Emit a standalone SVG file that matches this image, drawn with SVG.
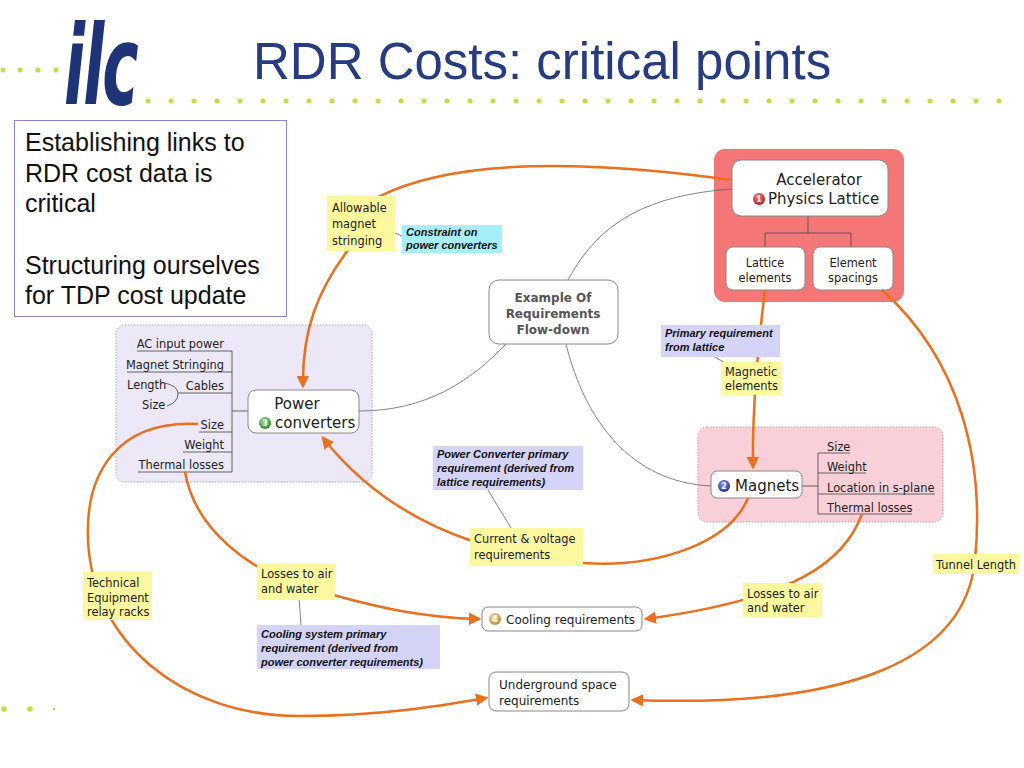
<svg xmlns="http://www.w3.org/2000/svg" width="1024" height="768" viewBox="0 0 1024 768">
<defs>
<marker id="arr" viewBox="0 0 10 10" refX="8" refY="5" markerWidth="5" markerHeight="5" orient="auto" markerUnits="strokeWidth">
<path d="M0,0 L10,5 L0,10 z" fill="#e8701e"/>
</marker>
<radialGradient id="gR" cx="0.4" cy="0.35" r="0.7"><stop offset="0" stop-color="#f08080"/><stop offset="1" stop-color="#b01818"/></radialGradient>
<radialGradient id="gB" cx="0.4" cy="0.35" r="0.7"><stop offset="0" stop-color="#8098e8"/><stop offset="1" stop-color="#1c2e90"/></radialGradient>
<radialGradient id="gG" cx="0.4" cy="0.35" r="0.7"><stop offset="0" stop-color="#90e090"/><stop offset="1" stop-color="#208a20"/></radialGradient>
<radialGradient id="gY" cx="0.4" cy="0.35" r="0.7"><stop offset="0" stop-color="#f4dca0"/><stop offset="1" stop-color="#b88a30"/></radialGradient>
</defs>
<style>
.t{font-family:"DejaVu Sans","Noto Sans",sans-serif;font-size:11.4px;fill:#222}
.tm{font-family:"DejaVu Sans","Noto Sans",sans-serif;font-size:15px;fill:#222}
.nb{font-family:"Liberation Sans",Arial,sans-serif;font-size:11px;font-weight:bold;font-style:italic;fill:#111}
.big{font-family:"Liberation Sans",Arial,sans-serif;font-size:25px;fill:#111}
.node{fill:#fff;stroke:#888;stroke-width:1}
.yel{fill:#fbf8a0}
.lav{fill:#d4d4f8}
.cy{fill:#a6eef8}
.oc{fill:none;stroke:#e8701e;stroke-width:2.5}
.gc{fill:none;stroke:#666;stroke-width:0.8}
.br{fill:none;stroke:#555;stroke-width:0.9}
.dot{fill:#c4dc3c}
.bn{font-family:"DejaVu Sans",sans-serif;font-size:8px;font-weight:bold;fill:#fff}
</style>
<rect width="1024" height="768" fill="#fff"/>

<g id="header">
<g class="dot">
<circle cx="3" cy="70" r="2.5"/><circle cx="20" cy="70" r="2.5"/><circle cx="38" cy="70" r="2.5"/><circle cx="56" cy="70" r="2.5"/><circle cx="74" cy="70" r="2.5"/><circle cx="92" cy="70" r="2.5"/><circle cx="110" cy="70" r="2.5"/>
<circle cx="148" cy="101" r="2.5"/><circle cx="171" cy="101" r="2.5"/><circle cx="194" cy="101" r="2.5"/><circle cx="217" cy="101" r="2.5"/><circle cx="240" cy="101" r="2.5"/><circle cx="263" cy="101" r="2.5"/><circle cx="286" cy="101" r="2.5"/><circle cx="309" cy="101" r="2.5"/><circle cx="332" cy="101" r="2.5"/><circle cx="355" cy="101" r="2.5"/><circle cx="378" cy="101" r="2.5"/><circle cx="401" cy="101" r="2.5"/><circle cx="424" cy="101" r="2.5"/><circle cx="447" cy="101" r="2.5"/><circle cx="470" cy="101" r="2.5"/><circle cx="493" cy="101" r="2.5"/><circle cx="516" cy="101" r="2.5"/><circle cx="539" cy="101" r="2.5"/><circle cx="562" cy="101" r="2.5"/><circle cx="585" cy="101" r="2.5"/><circle cx="608" cy="101" r="2.5"/><circle cx="631" cy="101" r="2.5"/><circle cx="654" cy="101" r="2.5"/><circle cx="677" cy="101" r="2.5"/><circle cx="700" cy="101" r="2.5"/><circle cx="723" cy="101" r="2.5"/><circle cx="746" cy="101" r="2.5"/><circle cx="769" cy="101" r="2.5"/><circle cx="792" cy="101" r="2.5"/><circle cx="815" cy="101" r="2.5"/><circle cx="838" cy="101" r="2.5"/><circle cx="861" cy="101" r="2.5"/><circle cx="884" cy="101" r="2.5"/><circle cx="907" cy="101" r="2.5"/><circle cx="930" cy="101" r="2.5"/><circle cx="953" cy="101" r="2.5"/><circle cx="976" cy="101" r="2.5"/><circle cx="999" cy="101" r="2.5"/>
<circle cx="4" cy="709" r="2.8"/><circle cx="30" cy="709" r="2.8"/><circle cx="54" cy="709" r="1.2"/>
</g>
<text x="64" y="104" font-family="DejaVu Sans Condensed,DejaVu Sans,sans-serif" font-size="110" font-weight="bold" font-style="italic" fill="#1f3478" letter-spacing="-3" transform="translate(64,0) scale(0.62,1) translate(-64,0)">ilc</text>
<text x="253" y="79" font-family="Liberation Sans,Arial,sans-serif" font-size="51" fill="#263b80">RDR Costs: critical points</text>
</g>

<g id="intro">
<rect x="14.5" y="120.5" width="272" height="196" fill="#fff" stroke="#8a86c8" stroke-width="1"/>
<text class="big" x="25" y="151">Establishing links to</text>
<text class="big" x="25" y="182">RDR cost data is</text>
<text class="big" x="25" y="212">critical</text>
<text class="big" x="25" y="274">Structuring ourselves</text>
<text class="big" x="25" y="304">for TDP cost update</text>
</g>

<g id="panel-power">
<rect x="116" y="325" width="256" height="157" rx="9" fill="#ece8f8" stroke="#aaa" stroke-dasharray="1.5 1.5"/>
<g class="br">
<path d="M137 351 H232 M127 372 H232 M186 393 H232 M199 432 H232 M183 452 H232 M138 472 H232 M232 351 V472 M232 411 H248"/>
<path d="M165 383 Q178 386 178 394 Q178 402 167 406 M178 393 H186"/>
</g>
<text class="t" x="224" y="348" text-anchor="end">AC input power</text>
<text class="t" x="224" y="369" text-anchor="end">Magnet Stringing</text>
<text class="t" x="224" y="390" text-anchor="end">Cables</text>
<text class="t" x="127" y="389">Length</text>
<text class="t" x="142" y="409">Size</text>
<text class="t" x="224" y="429" text-anchor="end">Size</text>
<text class="t" x="224" y="449" text-anchor="end">Weight</text>
<text class="t" x="224" y="469" text-anchor="end">Thermal losses</text>
</g>

<g id="node-power">
<rect class="node" x="248" y="390" width="111" height="43" rx="8"/>
<text class="tm" x="297" y="409" text-anchor="middle">Power</text>
<circle cx="265" cy="423" r="6" fill="url(#gG)"/>
<text class="bn" x="265" y="426" text-anchor="middle">3</text>
<text class="tm" x="275" y="428">converters</text>
</g>

<g id="node-example">
<rect class="node" x="489" y="280" width="129" height="64" rx="10"/>
<text class="t" x="553" y="302" text-anchor="middle" font-weight="bold" style="fill:#555;font-size:12px">Example Of</text>
<text class="t" x="553" y="318" text-anchor="middle" font-weight="bold" style="fill:#555;font-size:12px">Requirements</text>
<text class="t" x="553" y="334" text-anchor="middle" font-weight="bold" style="fill:#555;font-size:12px">Flow-down</text>
</g>

<g id="panel-lattice">
<rect x="714" y="149" width="190" height="153" rx="11" fill="#f47676"/>
<path class="br" d="M808 215 V233 M765 233 H851 M765 233 V247 M851 233 V247"/>
</g>
<g id="node-accel">
<rect class="node" x="732" y="160" width="156" height="56" rx="9"/>
<text class="tm" x="819" y="185" text-anchor="middle">Accelerator</text>
<circle cx="759" cy="199" r="6" fill="url(#gR)"/>
<text class="bn" x="759" y="202" text-anchor="middle">1</text>
<text class="tm" x="768" y="204">Physics Lattice</text>
</g>
<g id="node-lattice-elements">
<rect class="node" x="726" y="247" width="79" height="43" rx="7"/>
<text class="t" x="765" y="267" text-anchor="middle">Lattice</text>
<text class="t" x="765" y="282" text-anchor="middle">elements</text>
</g>
<g id="node-element-spacings">
<rect class="node" x="813" y="247" width="80" height="43" rx="7"/>
<text class="t" x="853" y="267" text-anchor="middle">Element</text>
<text class="t" x="853" y="282" text-anchor="middle">spacings</text>
</g>

<g id="panel-magnets">
<rect x="698" y="427" width="245" height="95" rx="9" fill="#f9d0d8" stroke="#aaa" stroke-dasharray="1.5 1.5"/>
<path class="br" d="M802 486 H818 M818 453 V514 M818 453 H850 M818 473 H866 M818 494 H935 M818 514 H912"/>
<text class="t" x="827" y="451">Size</text>
<text class="t" x="827" y="471">Weight</text>
<text class="t" x="827" y="492">Location in s-plane</text>
<text class="t" x="827" y="512">Thermal losses</text>
</g>
<g id="node-magnets">
<rect class="node" x="711" y="471" width="91" height="27" rx="6"/>
<circle cx="724" cy="486" r="6" fill="url(#gB)"/>
<text class="bn" x="724" y="489" text-anchor="middle">2</text>
<text class="tm" x="735" y="491">Magnets</text>
</g>

<g id="connectors">
<path class="gc" d="M568 280 C600 220 650 195 732 189"/>
<path class="gc" d="M566 344 C585 420 630 482 711 486"/>
<path class="gc" d="M359 411 C425 411 470 382 506 344"/>
<path class="gc" d="M395 233 L402 236"/>
<path class="gc" d="M715 357 L725 363"/>
<path class="gc" d="M488 490 L511 528"/>
<path class="gc" d="M299 598 L301 625"/>
<path class="oc" d="M378 197 Q480 145 732 180"/>
<path class="oc" d="M348 250 C318 290 302 330 303 386" marker-end="url(#arr)"/>
<path class="oc" d="M472 541 Q380 510 323 438" marker-end="url(#arr)"/>
<path class="oc" d="M748 498 C730 542 660 568 583 563"/>
<path class="oc" d="M765 290 C760 330 752 400 753 467" marker-end="url(#arr)"/>
<path class="oc" d="M882 290 C960 360 985 460 975 560 C965 660 850 708 633 700" marker-end="url(#arr)"/>
<path class="oc" d="M862 514 C845 560 800 598 646 619" marker-end="url(#arr)"/>
<path class="oc" d="M185 472 C195 530 250 570 300 585 C380 610 430 618 479 619" marker-end="url(#arr)"/>
<path class="oc" d="M198 424 C120 420 85 470 88 540 C92 640 180 716 300 716 C380 716 440 706 486 698" marker-end="url(#arr)"/>
</g>

<g id="note-allowable">
<rect class="yel" x="327" y="196" width="68" height="55"/>
<text class="t" x="332" y="212">Allowable</text>
<text class="t" x="332" y="228">magnet</text>
<text class="t" x="332" y="245">stringing</text>
</g>
<g id="note-constraint">
<rect class="cy" x="402" y="225" width="100" height="28"/>
<text class="nb" x="406" y="236">Constraint on</text>
<text class="nb" x="406" y="249">power converters</text>
</g>
<g id="note-primary-lattice">
<rect class="lav" x="661" y="325" width="119" height="32"/>
<text class="nb" x="665" y="337">Primary requirement</text>
<text class="nb" x="665" y="351">from lattice</text>
</g>
<g id="note-magnetic-elements">
<rect class="yel" x="721" y="362" width="60" height="33"/>
<text class="t" x="725" y="376">Magnetic</text>
<text class="t" x="725" y="390">elements</text>
</g>
<g id="note-pc-primary">
<rect class="lav" x="433" y="446" width="150" height="44"/>
<text class="nb" x="437" y="458">Power Converter primary</text>
<text class="nb" x="437" y="472">requirement (derived from</text>
<text class="nb" x="437" y="486">lattice requirements)</text>
</g>
<g id="note-current">
<rect class="yel" x="470" y="528" width="113" height="38"/>
<text class="t" x="474" y="543">Current &amp; voltage</text>
<text class="t" x="474" y="559">requirements</text>
</g>
<g id="note-losses-left">
<rect class="yel" x="257" y="564" width="78" height="36"/>
<text class="t" x="261" y="578">Losses to air</text>
<text class="t" x="261" y="593">and water</text>
</g>
<g id="note-cooling-primary">
<rect class="lav" x="257" y="625" width="183" height="44"/>
<text class="nb" x="261" y="638">Cooling system primary</text>
<text class="nb" x="261" y="652">requirement (derived from</text>
<text class="nb" x="261" y="666">power converter requirements)</text>
</g>
<g id="note-losses-right">
<rect class="yel" x="743" y="583" width="79" height="34"/>
<text class="t" x="747" y="598">Losses to air</text>
<text class="t" x="747" y="612">and water</text>
</g>
<g id="note-tunnel">
<rect class="yel" x="933" y="554" width="86" height="20"/>
<text class="t" x="936" y="569">Tunnel Length</text>
</g>
<g id="note-technical">
<rect class="yel" x="83" y="572" width="69" height="48"/>
<text class="t" x="87" y="587">Technical</text>
<text class="t" x="87" y="602">Equipment</text>
<text class="t" x="87" y="616">relay racks</text>
</g>

<g id="node-cooling">
<rect class="node" x="482" y="607" width="160" height="24" rx="6"/>
<circle cx="495" cy="619" r="6" fill="url(#gY)"/>
<text class="bn" x="495" y="622" text-anchor="middle">4</text>
<text class="t" x="506" y="624" style="font-size:12px">Cooling requirements</text>
</g>
<g id="node-underground">
<rect class="node" x="489" y="672" width="140" height="39" rx="7"/>
<text class="t" x="499" y="689" style="font-size:12px">Underground space</text>
<text class="t" x="499" y="705" style="font-size:12px">requirements</text>
</g>
</svg>
